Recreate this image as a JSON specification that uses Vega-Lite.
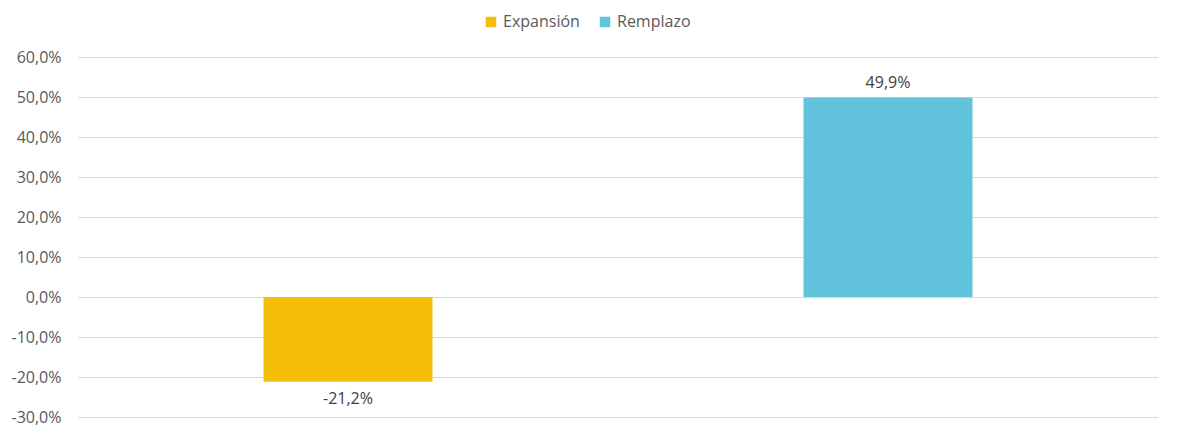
{
  "$schema": "https://vega.github.io/schema/vega-lite/v6.json",
  "autosize": {"type": "none"},
  "width": 1080,
  "height": 360,
  "padding": {"left": 78, "top": 57, "right": 22, "bottom": 16},
  "background": "white",
  "config": {
    "locale": {"number": {"decimal": ",", "thousands": ".", "grouping": [3], "currency": ["", " €"], "minus": "-"}},
    "font": "Open Sans",
    "view": {"stroke": null}
  },
  "data": {
    "values": [
      {"tipo": "Expansión", "valor": -0.212},
      {"tipo": "Remplazo", "valor": 0.499}
    ]
  },
  "encoding": {
    "x": {
      "field": "tipo",
      "type": "nominal",
      "sort": null,
      "scale": {"paddingInner": 0, "paddingOuter": 0},
      "axis": null
    },
    "y": {
      "field": "valor",
      "type": "quantitative",
      "scale": {"domain": [-0.3, 0.6], "nice": false, "zero": false},
      "axis": {
        "format": ".1%",
        "values": [-0.3, -0.2, -0.1, 0, 0.1, 0.2, 0.3, 0.4, 0.5, 0.6],
        "domain": false,
        "ticks": false,
        "title": null,
        "labelFont": "Open Sans",
        "labelFontSize": 16,
        "labelColor": "#595959",
        "labelPadding": 17,
        "gridColor": "#d9d9d9",
        "gridWidth": 1
      }
    }
  },
  "layer": [
    {
      "mark": {"type": "bar", "width": 169},
      "encoding": {
        "color": {
          "field": "tipo",
          "type": "nominal",
          "sort": null,
          "scale": {"domain": ["Expansión", "Remplazo"], "range": ["#f5be08", "#62c3dc"]},
          "legend": {
            "title": null,
            "orient": "none",
            "direction": "horizontal",
            "legendX": 405,
            "legendY": -43,
            "symbolType": "square",
            "symbolSize": 110,
            "symbolStrokeWidth": 0,
            "symbolOpacity": 1,
            "labelFont": "Open Sans",
            "labelFontSize": 16,
            "labelColor": "#595959",
            "labelOffset": 4,
            "columnPadding": 17
          }
        }
      }
    },
    {
      "transform": [{"filter": "datum.valor >= 0"}],
      "mark": {"type": "text", "baseline": "bottom", "dy": -6, "fontSize": 16, "color": "#404040", "font": "Open Sans"},
      "encoding": {"text": {"field": "valor", "type": "quantitative", "format": ".1%"}}
    },
    {
      "transform": [{"filter": "datum.valor < 0"}],
      "mark": {"type": "text", "baseline": "top", "dy": 9, "fontSize": 16, "color": "#404040", "font": "Open Sans"},
      "encoding": {"text": {"field": "valor", "type": "quantitative", "format": ".1%"}}
    }
  ]
}
